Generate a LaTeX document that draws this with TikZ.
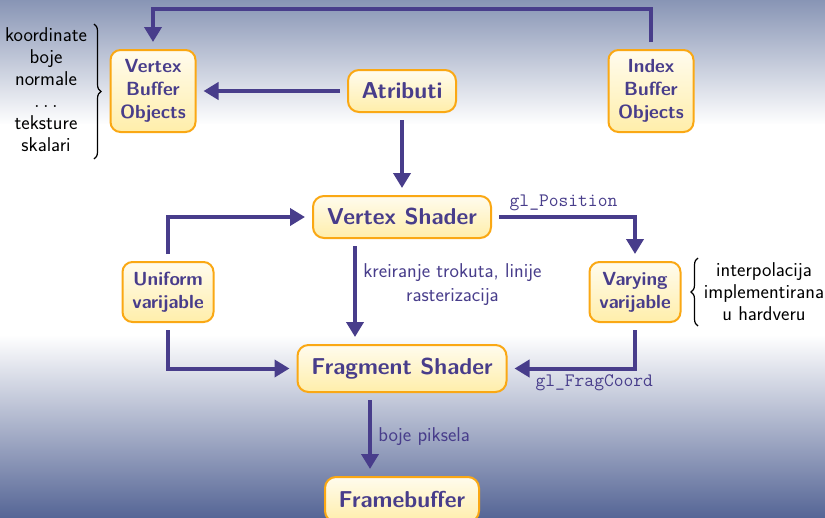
\documentclass[tikz,border=0pt]{standalone}
\usepackage{tikz}
\usepackage{xcolor}
\usetikzlibrary{arrows.meta,decorations.pathreplacing}
\definecolor{flowblue}{RGB}{72,61,139}
\definecolor{boxorange}{RGB}{250,168,20}
\definecolor{boxyellow}{RGB}{255,238,170}
\definecolor{bgtop}{RGB}{136,149,181}
\definecolor{bgbottom}{RGB}{86,102,150}
\tikzset{
    stage-box/.style = {draw=boxorange, line width=2pt, rectangle, rounded corners=11pt, top color=boxyellow!20, bottom color=boxyellow, text=flowblue, font=\sffamily\bfseries\fontsize{23}{26}\selectfont, align=center, inner sep=0pt},
    buffer-box/.style = {stage-box, rounded corners=10pt, font=\sffamily\bfseries\fontsize{19}{23}\selectfont},
    flow-arrow/.style = {draw=flowblue, line width=4pt, -{Triangle[length=15pt,width=17pt]}, shorten <=7pt, shorten >=7pt},
    flow-label/.style = {text=flowblue, font=\sffamily\fontsize{20}{24}\selectfont, align=center},
    code-label/.style = {text=flowblue, font=\ttfamily\fontsize{19}{22}\selectfont},
    side-list/.style = {font=\sffamily\fontsize{20}{22}\selectfont, align=center, inner sep=0pt},
    side-brace/.style = {decorate, decoration={brace, amplitude=7pt}, line width=1.2pt},
}

\begin{document}
\begin{tikzpicture}[x=1pt, y=-1pt]
\useasboundingbox (0,0) rectangle (825,517);
% background
\fill[top color=bgtop, bottom color=white] (0,0) rectangle (825,125);
\fill[white] (0,124) rectangle (825,336);
\fill[top color=white, bottom color=bgbottom] (0,335) rectangle (825,517);

% buffers and attributes
\node[buffer-box, minimum width=85pt, minimum height=82pt] (vbo) at (153,91) {Vertex\\Buffer\\Objects};
\node[stage-box, minimum width=108pt, minimum height=42pt] (atributi) at (402,91) {Atributi};
\node[buffer-box, minimum width=85pt, minimum height=82pt] (ibo) at (651,91) {Index\\Buffer\\Objects};

% shaders
\node[stage-box, minimum width=178pt, minimum height=42pt] (vertex) at (402,217) {Vertex Shader};
\node[buffer-box, minimum width=91pt, minimum height=60pt] (uniform) at (168,292) {Uniform\\varijable};
\node[buffer-box, minimum width=91pt, minimum height=60pt] (varying) at (635,292) {Varying\\varijable};
\node[stage-box, minimum width=209pt, minimum height=47pt] (fragment) at (402,368.5) {Fragment Shader};
\node[stage-box, minimum width=154pt, minimum height=45pt] (framebuffer) at (402,499.5) {Framebuffer};

% side notes
\node[side-list] (attr-list) at (46,90) {koordinate\\boje\\normale\\$\ldots$\\teksture\\skalari};
\draw[side-brace] (94,24) -- (94,159);
\node[side-list] (hw-note) at (764,292) {interpolacija\\implementirana\\u hardveru};
\draw[side-brace] (698,326) -- (698,258);

% connectors
\draw[flow-arrow] (ibo.north) -- ++(0,-40) -| (vbo.north);
\draw[flow-arrow] (atributi.west) -- (vbo.east);
\draw[flow-arrow] (atributi.south) -- (vertex.north);
\draw[flow-arrow] (uniform.north) |- (vertex.west);
\draw[flow-arrow] (uniform.south) |- (fragment.west);
\draw[flow-arrow] ([xshift=-47pt]vertex.south) -- ([xshift=-47pt]fragment.north)
    node[flow-label, midway, right, xshift=3pt, yshift=7pt] {kreiranje trokuta, linije\\rasterizacija};
\draw[flow-arrow] (vertex.east) -| (varying.north)
    node[code-label, pos=0.25, above, yshift=1pt] {gl\_Position};
\draw[flow-arrow] (varying.south) |- (fragment.east)
    node[code-label, pos=0.75, below, xshift=23pt, yshift=-1pt] {gl\_FragCoord};
\draw[flow-arrow] ([xshift=-32pt]fragment.south) -- ([xshift=-32pt]framebuffer.north)
    node[flow-label, midway, right, xshift=3pt, yshift=-2pt] {boje piksela};
\end{tikzpicture}
\end{document}
